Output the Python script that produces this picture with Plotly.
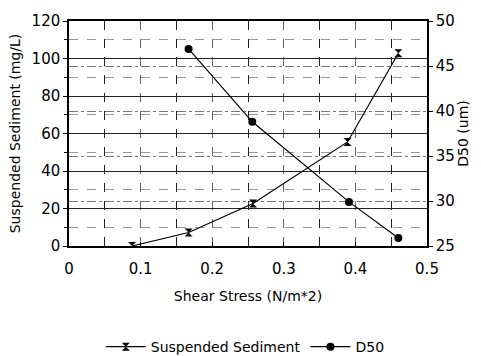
import plotly.graph_objects as go

shear_ss = [0.088, 0.167, 0.257, 0.389, 0.460]
suspended_sediment = [0.0, 7.2, 22.7, 55.5, 102.8]

shear_d50 = [0.167, 0.256, 0.391, 0.460]
d50 = [46.9, 38.8, 29.9, 25.9]

FONT = "DejaVu Sans"

fig = go.Figure()
fig.add_trace(go.Scatter(
    x=shear_ss, y=suspended_sediment, name="Suspended Sediment",
    mode="lines+markers",
    line=dict(color="black", width=1.2),
    marker=dict(symbol="hourglass", size=8, color="black"),
))
fig.add_trace(go.Scatter(
    x=shear_d50, y=d50, name="D50", yaxis="y2",
    mode="lines+markers",
    line=dict(color="black", width=1.2),
    marker=dict(symbol="circle", size=8, color="black"),
))

fig.update_layout(
    width=481, height=356,
    margin=dict(l=69, r=50, t=13, b=110),
    paper_bgcolor="white", plot_bgcolor="white",
    font=dict(family=FONT, size=14, color="black"),
    showlegend=True,
    legend=dict(orientation="h", xref="container", yref="container",
                x=0.51, xanchor="center", y=0.025, yanchor="middle",
                font=dict(size=14, color="black"), itemwidth=40),
    xaxis=dict(
        range=[0, 0.5], dtick=0.1,
        showline=True, linecolor="black", linewidth=1.5, mirror=True,
        ticks="inside", ticklen=4, tickcolor="black",
        showgrid=True, gridcolor="#666", griddash="dash", gridwidth=1,
        minor=dict(dtick=0.05, showgrid=True, gridcolor="#222", gridwidth=1),
        zeroline=False, ticklabelstandoff=8,
        title=dict(text="Shear Stress (N/m*2)", font=dict(size=14, color="black"), standoff=14),
        tickfont=dict(size=15, color="black"),
    ),
    yaxis=dict(
        range=[0, 120], dtick=20,
        showline=True, linecolor="black", linewidth=1.5,
        ticks="outside", ticklen=4, tickcolor="black",
        showgrid=True, gridcolor="#222", gridwidth=1,
        minor=dict(dtick=10, showgrid=True, gridcolor="#999", griddash="dash",
                   ticks="outside", ticklen=3, tickcolor="black"),
        zeroline=False,
        title=dict(text="Suspended Sediment (mg/L)", font=dict(size=14, color="black"), standoff=8),
        tickfont=dict(size=15, color="black"),
    ),
    yaxis2=dict(
        range=[25, 50], dtick=5, overlaying="y", side="right",
        showline=True, linecolor="black", linewidth=1.5,
        ticks="outside", ticklen=4, tickcolor="black",
        showgrid=True, gridcolor="#777", griddash="dashdot", gridwidth=1,
        zeroline=False,
        title=dict(text="D50 (um)", font=dict(size=14, color="black"), standoff=4),
        tickfont=dict(size=15, color="black"),
    ),
)

fig.write_html("out.html")
